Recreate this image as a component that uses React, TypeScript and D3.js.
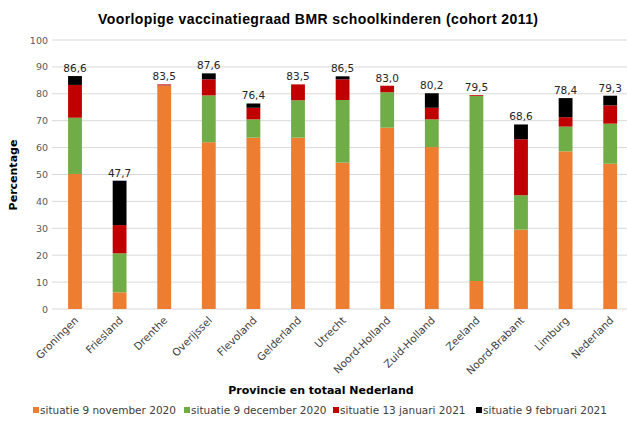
import React from "react";
import * as d3 from "d3";

const categories = ["Groningen","Friesland","Drenthe","Overijssel","Flevoland","Gelderland","Utrecht","Noord-Holland","Zuid-Holland","Zeeland","Noord-Brabant","Limburg","Nederland"];
const seriesNames = ["situatie 9 november 2020","situatie 9 december 2020","situatie 13 januari 2021","situatie 9 februari 2021"];
const nov2020 = [50.2, 6.2, 83.0, 62.0, 63.7, 63.7, 54.4, 67.4, 60.2, 10.4, 29.5, 58.6, 54.0];
const dec2020 = [20.9, 14.5, 0.1, 17.4, 6.8, 13.9, 23.3, 13.2, 10.3, 68.8, 12.8, 9.2, 14.9];
const jan2021 = [12.2, 10.5, 0.4, 6.0, 4.3, 5.9, 7.7, 2.4, 4.3, 0.3, 20.8, 3.5, 6.8];
const feb2021 = [3.3, 16.5, 0.0, 2.2, 1.6, 0.0, 1.1, 0.0, 5.4, 0.0, 5.5, 7.1, 3.6];
const totals = [86.6, 47.7, 83.5, 87.6, 76.4, 83.5, 86.5, 83.0, 80.2, 79.5, 68.6, 78.4, 79.3];
const yTicks = [0, 10, 20, 30, 40, 50, 60, 70, 80, 90, 100];

const colors = ["#ED7D31", "#70AD47", "#C00000", "#000000"];

export default function App() {
  const W = 627, H = 423;
  const x = d3.scaleBand<string>().domain(categories).range([52.7, 632.5]).paddingInner(0.69).paddingOuter(0.345);
  const y = d3.scaleLinear().domain([0, 100]).range([309, 40]);
  const rows = categories.map((c, i) => ({ cat: c, s0: nov2020[i], s1: dec2020[i], s2: jan2021[i], s3: feb2021[i] }));
  const stack = d3.stack<any>().keys(["s0", "s1", "s2", "s3"])(rows);
  const fmt = (v: number) => v.toFixed(1).replace(".", ",");
  const legendX = [33, 184, 333, 476];
  const font = "'DejaVu Sans', Verdana, sans-serif";
  return (
    <svg width={W} height={H} style={{ position: "absolute", left: 0, top: 0, background: "#fff" }} fontFamily={font}>
      <text x={318} y={24} textAnchor="middle" fontFamily="'Liberation Sans', Arial, sans-serif" fontWeight="bold" fontSize={14} fill="#000" textLength={440} lengthAdjust="spacing">
        Voorlopige vaccinatiegraad BMR schoolkinderen (cohort 2011)
      </text>
      {yTicks.map(t => (
        <g key={t}>
          <line x1={52} x2={627} y1={y(t)} y2={y(t)} stroke="#d9d9d9" strokeWidth={1} />
          <text x={48} y={y(t) + 3.5} textAnchor="end" fontSize={9.5} fill="#595959">{t}</text>
        </g>
      ))}
      {stack.map((layer, si) => (
        <g key={si} fill={colors[si]}>
          {layer.map((d, i) => (
            <rect key={i} x={x(categories[i])} width={x.bandwidth()} y={y(d[1])} height={Math.max(0, y(d[0]) - y(d[1]))} />
          ))}
        </g>
      ))}
      {totals.map((t, i) => (
        <text key={i} x={(x(categories[i]) as number) + x.bandwidth() / 2} y={y(t) - 4} textAnchor="middle" fontSize={10.5} fill="#262626">{fmt(t)}</text>
      ))}
      {categories.map((c, i) => {
        const cx = (x(c) as number) + x.bandwidth() / 2 + 4;
        return (
          <text key={c} transform={`translate(${cx},${321}) rotate(-45)`} textAnchor="end" fontSize={10.5} fill="#404040">{c}</text>
        );
      })}
      <text transform={`translate(17,${175}) rotate(-90)`} textAnchor="middle" fontWeight="bold" fontSize={11} fill="#000">Percentage</text>
      <text x={321} y={394} textAnchor="middle" fontWeight="bold" fontSize={11} fill="#000">Provincie en totaal Nederland</text>
      {seriesNames.map((s, i) => (
        <g key={s}>
          <rect x={legendX[i]} y={407} width={6} height={6} fill={colors[i]} />
          <text x={legendX[i] + 7} y={414} fontSize={10.5} fill="#404040">{s}</text>
        </g>
      ))}
    </svg>
  );
}
